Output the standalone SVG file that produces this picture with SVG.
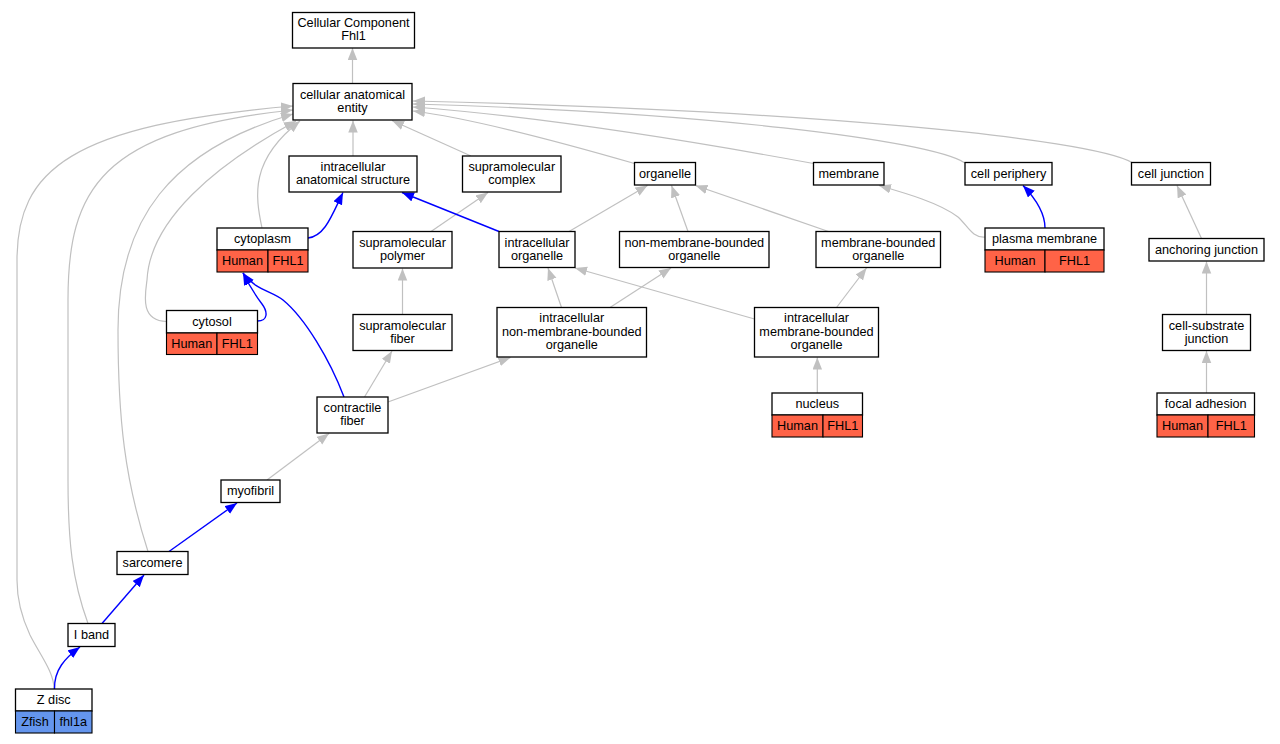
<svg xmlns="http://www.w3.org/2000/svg" width="1280" height="744" viewBox="0 0 1280 744">
<style>
text{font-family:"Liberation Sans",Arial,sans-serif;font-size:12.7px;fill:#000;text-anchor:middle}
.box{fill:#fff;stroke:#000;stroke-width:1.3}
.red{fill:#ff6347;stroke:#000;stroke-width:1.1}
.blu{fill:#6495ed;stroke:#000;stroke-width:1.1}
.g{fill:none;stroke:#c0c0c0;stroke-width:1.2;marker-end:url(#ag)}
.b{fill:none;stroke:#0000ff;stroke-width:1.4;marker-end:url(#ab)}
</style>
<defs>
<marker id="ag" markerUnits="userSpaceOnUse" markerWidth="13" markerHeight="11" refX="12" refY="4.75" orient="auto"><path d="M0,0 L12,4.75 L0,9.5 z" fill="#c0c0c0"/></marker>
<marker id="ab" markerUnits="userSpaceOnUse" markerWidth="13" markerHeight="11" refX="12" refY="4.75" orient="auto"><path d="M0,0 L12,4.75 L0,9.5 z" fill="#0000ff"/></marker>
</defs>
<rect width="1280" height="744" fill="#fff"/>
<g id="connectors">
<path class="g" d="M352.5,83.5 L352.5,48"/>
<path class="g" d="M353,156 L353,120.5"/>
<path class="g" d="M471,156 L392,120.5"/>
<path class="g" d="M634.5,163.5 C560,142 470,118 413,111"/>
<path class="g" d="M813.5,163.5 C740,150 560,118 413,107"/>
<path class="g" d="M965,163 C930,140 700,112 413,104"/>
<path class="g" d="M1132,162.5 C1090,138 800,110 413,101"/>
<path class="g" d="M262,228 C255,195 250,160 300,121"/>
<path class="g" d="M166.5,321.5 C140,321 145,295 147,280 C150,220 215,165 296,121"/>
<path class="g" d="M148,551.5 C125,480 118,420 118,330 C118,220 170,150 293,114"/>
<path class="g" d="M88,623.5 C72,580 68,540 68,480 L68,300 C68,190 100,130 293,110"/>
<path class="g" d="M54,689 C54,672 40,655 30,635 C22,618 17,600 17,580 L17,260 C17,170 70,125 293,106"/>
<path class="g" d="M431,231.5 L488,192.5"/>
<path class="g" d="M402.5,314.5 L402.5,268.5"/>
<path class="g" d="M364.5,397 L392,351"/>
<path class="g" d="M388,402 L510.5,357.5"/>
<path class="g" d="M267,480 L329,433.5"/>
<path class="g" d="M569,231.5 L647.5,185.5"/>
<path class="g" d="M688,231.5 L671.5,185.5"/>
<path class="g" d="M828.5,231.5 L695.5,185.5"/>
<path class="g" d="M985,237 C972,238 968,226 958,217 C940,203 905,193 879,185.5"/>
<path class="g" d="M1201.5,238.5 L1177,185.5"/>
<path class="g" d="M1206.5,314.5 L1206.5,261.5"/>
<path class="g" d="M1206.5,393 L1206.5,351"/>
<path class="g" d="M561.5,307.5 L548,268"/>
<path class="g" d="M610,307.5 L671,268"/>
<path class="g" d="M754.5,319 L575,268"/>
<path class="g" d="M836.5,307.5 L866.5,268"/>
<path class="g" d="M817.3,393 L817.3,357.5"/>
<path class="b" d="M308,238 C325,236 332,215 343,192.5"/>
<path class="b" d="M499,231.5 L402,192.5"/>
<path class="b" d="M257.5,321 C268,321 268,312 262,304 C256,296 250,287 243,273"/>
<path class="b" d="M344,397 C330,360 305,318 283,300 C272,291 255,290 243,273"/>
<path class="b" d="M1045,228 C1045,212 1035,198 1023,185.5"/>
<path class="b" d="M169,551.5 L237,503"/>
<path class="b" d="M102,623.5 L144,575"/>
<path class="b" d="M54.5,689 C54,670 65,658 80,647"/>
</g>
<g id="n_root"><rect class="box" x="292.5" y="12.5" width="122" height="35.5"/><text x="353.5" y="27">Cellular Component</text><text x="353.5" y="40">Fhl1</text></g>
<g id="n_cae"><rect class="box" x="293" y="83.5" width="119" height="36.5"/><text x="352.5" y="98.8">cellular anatomical</text><text x="352.5" y="111.8">entity</text></g>
<g id="n_ias"><rect class="box" x="289" y="156" width="128" height="36"/><text x="353" y="171">intracellular</text><text x="353" y="184">anatomical structure</text></g>
<g id="n_smc"><rect class="box" x="462.5" y="156" width="98.5" height="36"/><text x="511.75" y="171">supramolecular</text><text x="511.75" y="184">complex</text></g>
<g id="n_organelle"><rect class="box" x="634.5" y="162.5" width="61" height="22.5"/><text x="665" y="177.8">organelle</text></g>
<g id="n_membrane"><rect class="box" x="813.5" y="162.5" width="70.5" height="22.5"/><text x="848.75" y="177.8">membrane</text></g>
<g id="n_cellperiphery"><rect class="box" x="965" y="162.5" width="87" height="22.5"/><text x="1008.5" y="177.8">cell periphery</text></g>
<g id="n_celljunction"><rect class="box" x="1131.5" y="162.5" width="79" height="22.5"/><text x="1171" y="177.8">cell junction</text></g>
<g id="n_cytoplasm"><rect class="box" x="217" y="228" width="91" height="22"/><rect class="red" x="217" y="250" width="51" height="22"/><rect class="red" x="268" y="250" width="40" height="22"/><text x="262.5" y="243">cytoplasm</text><text x="242.5" y="265">Human</text><text x="288" y="265">FHL1</text></g>
<g id="n_smp"><rect class="box" x="353" y="231.5" width="99" height="36.5"/><text x="402.5" y="246.7">supramolecular</text><text x="402.5" y="259.7">polymer</text></g>
<g id="n_io"><rect class="box" x="499" y="231.5" width="76" height="36"/><text x="537" y="246.7">intracellular</text><text x="537" y="259.7">organelle</text></g>
<g id="n_nmbo"><rect class="box" x="619.5" y="231.5" width="149.5" height="36"/><text x="694.25" y="246.7">non-membrane-bounded</text><text x="694.25" y="259.7">organelle</text></g>
<g id="n_mbo"><rect class="box" x="816" y="231.5" width="124.5" height="36"/><text x="878.25" y="246.7">membrane-bounded</text><text x="878.25" y="259.7">organelle</text></g>
<g id="n_pm"><rect class="box" x="985" y="228" width="119" height="22"/><rect class="red" x="985" y="250" width="60" height="22"/><rect class="red" x="1045" y="250" width="59" height="22"/><text x="1044.5" y="243">plasma membrane</text><text x="1015" y="265">Human</text><text x="1074.5" y="265">FHL1</text></g>
<g id="n_aj"><rect class="box" x="1149" y="238.5" width="115" height="22.5"/><text x="1206.5" y="253.8">anchoring junction</text></g>
<g id="n_cytosol"><rect class="box" x="166.5" y="310.5" width="91" height="22.5"/><rect class="red" x="166.5" y="333" width="50.5" height="21.5"/><rect class="red" x="217" y="333" width="40.5" height="21.5"/><text x="212" y="325.5">cytosol</text><text x="191.75" y="347.5">Human</text><text x="237.25" y="347.5">FHL1</text></g>
<g id="n_smf"><rect class="box" x="353" y="314.5" width="99" height="36"/><text x="402.5" y="329.5">supramolecular</text><text x="402.5" y="342.5">fiber</text></g>
<g id="n_inmbo"><rect class="box" x="497" y="307.5" width="149.5" height="49.5"/><text x="571.75" y="322">intracellular</text><text x="571.75" y="335.5">non-membrane-bounded</text><text x="571.75" y="349">organelle</text></g>
<g id="n_imbo"><rect class="box" x="754.5" y="307.5" width="124" height="49.5"/><text x="816.5" y="322">intracellular</text><text x="816.5" y="335.5">membrane-bounded</text><text x="816.5" y="349">organelle</text></g>
<g id="n_csj"><rect class="box" x="1162.5" y="314.5" width="88" height="36"/><text x="1206.5" y="329.5">cell-substrate</text><text x="1206.5" y="342.5">junction</text></g>
<g id="n_cf"><rect class="box" x="317" y="397" width="71" height="36"/><text x="352.5" y="412">contractile</text><text x="352.5" y="425">fiber</text></g>
<g id="n_nucleus"><rect class="box" x="772" y="393" width="90.5" height="22"/><rect class="red" x="772" y="415" width="51" height="22"/><rect class="red" x="823" y="415" width="39.5" height="22"/><text x="817.25" y="408">nucleus</text><text x="797.5" y="430">Human</text><text x="842.75" y="430">FHL1</text></g>
<g id="n_focal"><rect class="box" x="1157" y="393" width="97.5" height="22"/><rect class="red" x="1157" y="415" width="51" height="22"/><rect class="red" x="1208" y="415" width="46.5" height="22"/><text x="1205.75" y="408">focal adhesion</text><text x="1182.5" y="430">Human</text><text x="1231.25" y="430">FHL1</text></g>
<g id="n_myofibril"><rect class="box" x="221" y="480" width="59" height="22.5"/><text x="250.5" y="495.3">myofibril</text></g>
<g id="n_sarcomere"><rect class="box" x="117" y="551.5" width="71" height="23"/><text x="152.5" y="567">sarcomere</text></g>
<g id="n_iband"><rect class="box" x="68" y="623.5" width="47" height="23"/><text x="91.5" y="639">I band</text></g>
<g id="n_zdisc"><rect class="box" x="15.5" y="689" width="76.5" height="22"/><rect class="blu" x="15.5" y="711" width="39" height="22"/><rect class="blu" x="54.5" y="711" width="37.5" height="22"/><text x="53.75" y="704">Z disc</text><text x="35" y="726">Zfish</text><text x="73.25" y="726">fhl1a</text></g>
</svg>
